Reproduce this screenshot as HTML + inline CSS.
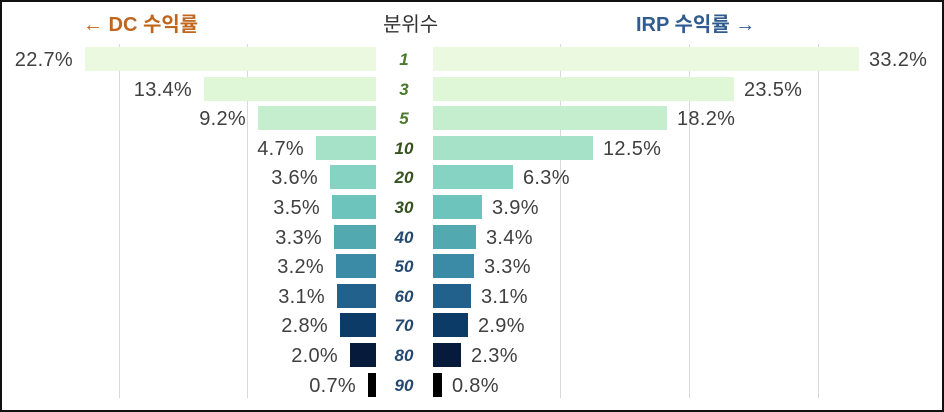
<!DOCTYPE html>
<html><head><meta charset="utf-8"><style>
body{margin:0;width:944px;height:412px;background:#fff;position:relative;overflow:hidden;font-family:"Liberation Sans","Noto Sans CJK KR",sans-serif}
.frame{position:absolute;left:0;top:0;width:940px;height:408px;border:2px solid #111}
.g{position:absolute;top:44px;height:354px;width:1px;background:#d9d9d9}
.b{position:absolute;height:24px}
.t{position:absolute;font-size:20px;color:#404040;line-height:24px;letter-spacing:0.3px}
.c{position:absolute;left:376px;width:56px;text-align:center;font-size:17px;font-weight:bold;font-style:italic;line-height:26px}
.h{position:absolute;top:11px;font-size:20px;font-weight:bold;line-height:28px}
</style></head><body>
<div class="frame"></div>
<div class="g" style="left:119px"></div><div class="g" style="left:247px"></div>
<div class="g" style="left:560px"></div><div class="g" style="left:689px"></div><div class="g" style="left:818px"></div>
<div class="h" style="left:83px;color:#c0661e">← DC 수익률</div>
<div class="h" style="left:383px;color:#333;font-weight:normal">분위수</div>
<div class="h" style="left:636px;color:#2f5b8f">IRP 수익률 →</div>
<div id="rows"></div>
<script>
var d=[["1",22.7,85,33.2,859,"#ebf9e0","#4c7a2c"],["3",13.4,204,23.5,734,"#dff6d7","#4c7a2c"],["5",9.2,258,18.2,667,"#c5eece","#4c7a2c"],["10",4.7,316,12.5,593,"#a6e2c8","#35521f"],["20",3.6,330,6.3,513,"#86d3c3","#35521f"],["30",3.5,332,3.9,482,"#6cc4bc","#35521f"],["40",3.3,334,3.4,476,"#52aab0","#254a72"],["50",3.2,336,3.3,474,"#3c8ba6","#254a72"],["60",3.1,337,3.1,471,"#23618d","#254a72"],["70",2.8,340,2.9,468,"#0c3b67","#254a72"],["80",2.0,350,2.3,461,"#061a3c","#254a72"],["90",0.7,368,0.8,442,"#000","#254a72"]];
var h="";d.forEach(function(r,i){var y=Math.round(47+i*29.6);
h+='<div class="b" style="top:'+y+'px;left:'+r[2]+'px;width:'+(376-r[2])+'px;background:'+r[5]+'"></div>';
h+='<div class="b" style="top:'+y+'px;left:433px;width:'+(r[4]-433)+'px;background:'+r[5]+'"></div>';
h+='<div class="t" style="top:'+(y+1)+'px;right:'+(944-r[2]+12)+'px">'+r[1].toFixed(1)+'%</div>';
h+='<div class="t" style="top:'+(y+1)+'px;left:'+(r[4]+10)+'px">'+r[3].toFixed(1)+'%</div>';
h+='<div class="c" style="top:'+y+'px;color:'+r[6]+'">'+r[0]+'</div>';});
document.getElementById("rows").innerHTML=h;
</script>
</body></html>
